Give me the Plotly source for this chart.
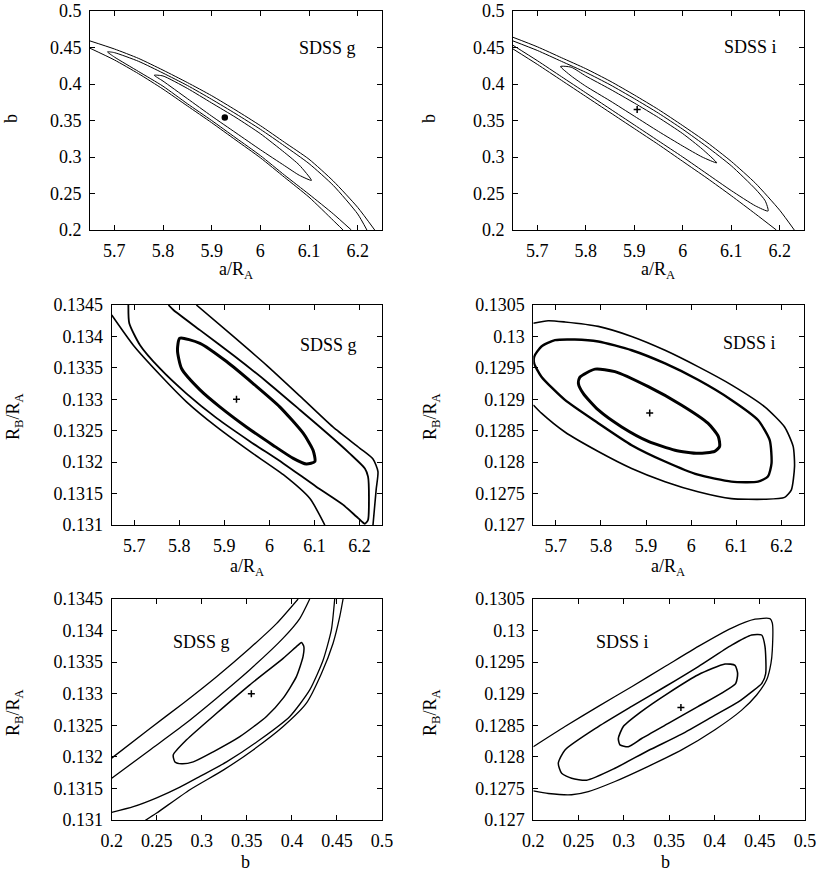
import plotly.graph_objects as go

# ---------- panel 1: a/R_A vs b, SDSS g ----------
p1_outer_up_x = [5.65, 5.70, 5.75, 5.80, 5.85, 5.90, 5.95, 6.00, 6.05, 6.10, 6.15, 6.20, 6.235]
p1_outer_up_y = [0.459, 0.448, 0.435, 0.419, 0.402, 0.384, 0.364, 0.343, 0.320, 0.297, 0.267, 0.231, 0.2]
p1_outer_lo_x = [5.65, 5.70, 5.75, 5.80, 5.85, 5.90, 5.95, 6.00, 6.05, 6.10, 6.15, 6.17]
p1_outer_lo_y = [0.449, 0.433, 0.414, 0.393, 0.370, 0.347, 0.323, 0.299, 0.272, 0.245, 0.213, 0.2]
p1_mid_x = [6.187, 6.15, 6.10, 6.05, 6.00, 5.95, 5.90, 5.85, 5.80, 5.75, 5.70, 5.686,
            5.70, 5.75, 5.80, 5.85, 5.90, 5.95, 6.00, 6.05, 6.10, 6.15, 6.20, 6.219]
p1_mid_y = [0.2, 0.222, 0.249, 0.275, 0.302, 0.326, 0.350, 0.373, 0.397, 0.417, 0.437, 0.444,
            0.443, 0.431, 0.415, 0.398, 0.379, 0.359, 0.338, 0.315, 0.291, 0.261, 0.222, 0.2]
p1_in_x = [5.782, 5.80, 5.85, 5.90, 5.95, 6.00, 6.05, 6.08, 6.105, 6.08, 6.05, 6.00, 5.95, 5.90, 5.85, 5.80, 5.782]
p1_in_y = [0.412, 0.411, 0.394, 0.374, 0.354, 0.332, 0.306, 0.289, 0.268, 0.275, 0.288, 0.310, 0.333, 0.356, 0.380, 0.404, 0.412]
p1_best = (5.927, 0.354)

# ---------- panel 2: a/R_A vs b, SDSS i ----------
p2_outer_up_x = [5.65, 5.70, 5.75, 5.80, 5.85, 5.90, 5.95, 6.00, 6.05, 6.10, 6.15, 6.20, 6.23]
p2_outer_up_y = [0.464, 0.451, 0.436, 0.421, 0.404, 0.385, 0.365, 0.343, 0.320, 0.294, 0.264, 0.227, 0.2]
p2_outer_lo_x = [5.65, 5.70, 5.75, 5.80, 5.85, 5.90, 5.95, 6.00, 6.05, 6.10, 6.15, 6.193]
p2_outer_lo_y = [0.448, 0.427, 0.405, 0.383, 0.361, 0.339, 0.317, 0.294, 0.271, 0.247, 0.222, 0.2]
p2_mid_x = [5.65, 5.70, 5.75, 5.80, 5.85, 5.90, 5.95, 6.00, 6.05, 6.10, 6.15, 6.176,
            6.17, 6.15, 6.10, 6.05, 6.00, 5.95, 5.90, 5.85, 5.80, 5.75, 5.70, 5.65]
p2_mid_y = [0.453, 0.432, 0.410, 0.388, 0.366, 0.344, 0.322, 0.300, 0.277, 0.254, 0.233, 0.226,
            0.240, 0.256, 0.288, 0.314, 0.338, 0.360, 0.380, 0.399, 0.416, 0.431, 0.446, 0.459]
p2_in_x = [5.748, 5.77, 5.80, 5.85, 5.90, 5.95, 6.00, 6.04, 6.07, 6.04, 6.00, 5.95, 5.90, 5.85, 5.80, 5.77, 5.748]
p2_in_y = [0.424, 0.423, 0.411, 0.393, 0.374, 0.354, 0.332, 0.311, 0.292, 0.300, 0.315, 0.335, 0.356, 0.377, 0.397, 0.411, 0.424]
p2_best = (5.906, 0.365)

# ---------- panel 3: a/R_A vs R_B/R_A, SDSS g ----------
p3_in_x = [5.801, 5.846, 5.905, 5.964, 6.023, 6.075, 6.097, 6.101, 6.082, 6.053, 6.008, 5.949, 5.890, 5.846, 5.805, 5.796, 5.801]
p3_in_y = [0.13397, 0.13389, 0.13360, 0.13325, 0.13288, 0.13246, 0.13219, 0.13201, 0.13197, 0.13206,
           0.13227, 0.13256, 0.13288, 0.13315, 0.13349, 0.13378, 0.13397]
p3_mid_x = [5.687, 5.689, 5.713, 5.757, 5.816, 5.883, 5.957, 6.031, 6.104, 6.164, 6.197, 6.212,
            6.219, 6.221, 6.219, 6.212, 6.178, 6.141, 6.068, 5.994, 5.920, 5.846, 5.787, 5.776]
p3_mid_y = [0.13450, 0.13421, 0.13386, 0.13349, 0.13309, 0.13270, 0.13233, 0.13198, 0.13161, 0.13132, 0.13111, 0.13102,
            0.13108, 0.13145, 0.13177, 0.13190, 0.13214, 0.13238, 0.13283, 0.13328, 0.13370, 0.13410, 0.13442, 0.13450]
p3_outer_lo_x = [5.650, 5.698, 5.757, 5.816, 5.883, 5.957, 6.031, 6.090, 6.123]
p3_outer_lo_y = [0.13434, 0.13386, 0.13339, 0.13296, 0.13256, 0.13217, 0.13180, 0.13142, 0.13100]
p3_outer_up_x = [5.838, 5.920, 5.994, 6.068, 6.141, 6.201, 6.230, 6.241, 6.237, 6.230]
p3_outer_up_y = [0.13450, 0.13400, 0.13354, 0.13305, 0.13256, 0.13222, 0.13205, 0.13185, 0.13156, 0.13100]
p3_best = (5.927, 0.1330)

# ---------- panel 4: a/R_A vs R_B/R_A, SDSS i ----------
p4_in_x = [5.753, 5.787, 5.831, 5.905, 5.978, 6.037, 6.060, 6.063, 6.052, 6.015, 5.964, 5.905, 5.846, 5.794, 5.761, 5.750, 5.753]
p4_in_y = [0.12935, 0.12948, 0.12944, 0.12920, 0.12891, 0.12862, 0.12841, 0.12825, 0.12817, 0.12814,
           0.12819, 0.12833, 0.12856, 0.12883, 0.12909, 0.12925, 0.12935]
p4_mid_x = [5.652, 5.668, 5.698, 5.742, 5.794, 5.868, 5.942, 6.015, 6.089, 6.148, 6.174, 6.178,
            6.170, 6.148, 6.089, 6.015, 5.942, 5.868, 5.794, 5.720, 5.668, 5.652, 5.652]
p4_mid_y = [0.12968, 0.12984, 0.12994, 0.12995, 0.12992, 0.12978, 0.12957, 0.12931, 0.12899, 0.12867, 0.12835, 0.12798,
            0.12777, 0.12769, 0.12769, 0.12780, 0.12801, 0.12827, 0.12862, 0.12899, 0.12936, 0.12957, 0.12968]
p4_outer_x = [5.650, 5.683, 5.720, 5.794, 5.868, 5.942, 6.015, 6.089, 6.163, 6.207, 6.226, 6.229,
              6.222, 6.207, 6.163, 6.089, 6.015, 5.942, 5.868, 5.794, 5.720, 5.668, 5.650]
p4_outer_y = [0.13021, 0.13025, 0.13023, 0.13016, 0.13000, 0.12978, 0.12952, 0.12923, 0.12888, 0.12856, 0.12825, 0.12793,
              0.12756, 0.12744, 0.12741, 0.12742, 0.12753, 0.12769, 0.12790, 0.12817, 0.12848, 0.12878, 0.12891]
p4_best = (5.908, 0.12878)

# ---------- panel 5: b vs R_B/R_A, SDSS g ----------
p5_outer_up_x = [0.2000, 0.2425, 0.2794, 0.3164, 0.3533, 0.3829, 0.4069]
p5_outer_up_y = [0.13198, 0.13245, 0.13285, 0.13327, 0.13372, 0.13411, 0.13450]
p5_mid_up_x = [0.2000, 0.2425, 0.2794, 0.3164, 0.3533, 0.3903, 0.4087, 0.4198]
p5_mid_up_y = [0.13166, 0.13211, 0.13250, 0.13293, 0.13338, 0.13388, 0.13419, 0.13450]
p5_mid_lo_x = [0.2000, 0.2240, 0.2499, 0.2757, 0.2979, 0.3275, 0.3644, 0.3977, 0.4198, 0.4346, 0.4438, 0.4475]
p5_mid_lo_y = [0.13112, 0.13121, 0.13135, 0.13152, 0.13169, 0.13192, 0.13227, 0.13264, 0.13306, 0.13353, 0.13401, 0.13450]
p5_outer_lo_x = [0.2369, 0.2499, 0.2868, 0.3238, 0.3570, 0.3903, 0.4161, 0.4328, 0.4457, 0.4531, 0.4568]
p5_outer_lo_y = [0.13099, 0.13111, 0.13148, 0.13179, 0.13211, 0.13248, 0.13285, 0.13332, 0.13380, 0.13422, 0.13450]
p5_in_x = [0.2683, 0.2831, 0.3164, 0.3533, 0.3903, 0.4069, 0.4106, 0.4132, 0.4124, 0.4050, 0.3903, 0.3718,
           0.3422, 0.3127, 0.2905, 0.2776, 0.2702, 0.2683]
p5_in_y = [0.13203, 0.13227, 0.13269, 0.13314, 0.13356, 0.13377, 0.13381, 0.13375, 0.13359, 0.13327, 0.13293, 0.13264,
           0.13232, 0.13208, 0.13192, 0.13189, 0.13192, 0.13203]
p5_best = (0.355, 0.1330)

# ---------- panel 6: b vs R_B/R_A, SDSS i ----------
p6_outer_x = [0.2000, 0.2350, 0.2718, 0.3086, 0.3454, 0.3822, 0.4190, 0.4448, 0.4613, 0.4639, 0.4639, 0.4624,
              0.4577, 0.4466, 0.4301, 0.4006, 0.3638, 0.3270, 0.2902, 0.2607, 0.2423, 0.2166, 0.2000]
p6_outer_y = [0.12816, 0.12848, 0.12880, 0.12911, 0.12943, 0.12975, 0.13004, 0.13018, 0.13019, 0.13012, 0.12969, 0.12948,
              0.12922, 0.12898, 0.12874, 0.12843, 0.12811, 0.12785, 0.12761, 0.12745, 0.12740, 0.12742, 0.12746]
p6_mid_x = [0.2276, 0.2350, 0.2718, 0.3086, 0.3454, 0.3822, 0.4190, 0.4411, 0.4521, 0.4558, 0.4566, 0.4521,
            0.4411, 0.4264, 0.4006, 0.3638, 0.3270, 0.2902, 0.2589, 0.2423, 0.2313, 0.2276]
p6_mid_y = [0.12790, 0.12811, 0.12848, 0.12880, 0.12911, 0.12943, 0.12977, 0.12993, 0.12993, 0.12975, 0.12932, 0.12916,
            0.12903, 0.12887, 0.12866, 0.12836, 0.12810, 0.12782, 0.12763, 0.12766, 0.12774, 0.12790]
p6_in_x = [0.2939, 0.2994, 0.3196, 0.3491, 0.3822, 0.4117, 0.4227, 0.4256, 0.4234, 0.4080, 0.3822, 0.3491,
           0.3196, 0.3049, 0.2957, 0.2939]
p6_in_y = [0.12829, 0.12848, 0.12872, 0.12901, 0.12930, 0.12947, 0.12945, 0.12932, 0.12916, 0.12901, 0.12880, 0.12853,
           0.12829, 0.12816, 0.12819, 0.12829]
p6_best = (0.363, 0.12878)

# ticks
a_ticks = [5.7, 5.8, 5.9, 6.0, 6.1, 6.2]
a_labels = ["5.7", "5.8", "5.9", "6", "6.1", "6.2"]
b_ticks = [0.2, 0.25, 0.3, 0.35, 0.4, 0.45, 0.5]
b_labels = ["0.2", "0.25", "0.3", "0.35", "0.4", "0.45", "0.5"]
rg_ticks = [0.131, 0.1315, 0.132, 0.1325, 0.133, 0.1335, 0.134, 0.1345]
rg_labels = ["0.131", "0.1315", "0.132", "0.1325", "0.133", "0.1335", "0.134", "0.1345"]
ri_ticks = [0.127, 0.1275, 0.128, 0.1285, 0.129, 0.1295, 0.13, 0.1305]
ri_labels = ["0.127", "0.1275", "0.128", "0.1285", "0.129", "0.1295", "0.13", "0.1305"]

FONT = "Liberation Serif"
FS = 18

fig = go.Figure()


def add_line(n, xs, ys, width=1.0):
    fig.add_trace(go.Scatter(
        x=xs, y=ys, mode="lines", xaxis="x%d" % n, yaxis="y%d" % n,
        line=dict(color="black", width=width, shape="spline", smoothing=0.6),
        showlegend=False, hoverinfo="skip",
    ))


def add_best(n, pt, symbol="cross-thin"):
    fig.add_trace(go.Scatter(
        x=[pt[0]], y=[pt[1]], mode="markers", xaxis="x%d" % n, yaxis="y%d" % n,
        marker=dict(symbol=symbol, size=5, color="black", line=dict(color="black", width=1.5)),
        showlegend=False, hoverinfo="skip",
    ))


add_line(1, p1_outer_up_x, p1_outer_up_y)
add_line(1, p1_outer_lo_x, p1_outer_lo_y)
add_line(1, p1_mid_x, p1_mid_y)
add_line(1, p1_in_x, p1_in_y)
add_best(1, p1_best, "circle")

add_line(2, p2_outer_up_x, p2_outer_up_y)
add_line(2, p2_outer_lo_x, p2_outer_lo_y)
add_line(2, p2_mid_x, p2_mid_y)
add_line(2, p2_in_x, p2_in_y)
add_best(2, p2_best)

add_line(3, p3_in_x, p3_in_y, 3)
add_line(3, p3_mid_x, p3_mid_y, 1.8)
add_line(3, p3_outer_lo_x, p3_outer_lo_y, 1.6)
add_line(3, p3_outer_up_x, p3_outer_up_y, 1.6)
add_best(3, p3_best)

add_line(4, p4_in_x, p4_in_y, 3)
add_line(4, p4_mid_x, p4_mid_y, 2.4)
add_line(4, p4_outer_x, p4_outer_y, 1.6)
add_best(4, p4_best)

add_line(5, p5_outer_up_x, p5_outer_up_y, 1.3)
add_line(5, p5_mid_up_x, p5_mid_up_y, 1.3)
add_line(5, p5_mid_lo_x, p5_mid_lo_y, 1.3)
add_line(5, p5_outer_lo_x, p5_outer_lo_y, 1.3)
add_line(5, p5_in_x, p5_in_y, 1.5)
add_best(5, p5_best)

add_line(6, p6_outer_x, p6_outer_y, 1.3)
add_line(6, p6_mid_x, p6_mid_y, 1.5)
add_line(6, p6_in_x, p6_in_y, 1.6)
add_best(6, p6_best)

W, H = 830, 873
boxes = {
    1: (90, 382, 11, 230),
    2: (513, 804, 11, 230),
    3: (111.7, 382, 305, 525),
    4: (533.3, 804, 305, 525),
    5: (111.7, 382, 599, 820),
    6: (533.3, 805, 599, 820),
}
xspec = {1: ([5.65, 6.25], a_ticks, a_labels), 2: ([5.65, 6.25], a_ticks, a_labels),
         3: ([5.65, 6.25], a_ticks, a_labels), 4: ([5.65, 6.25], a_ticks, a_labels),
         5: ([0.2, 0.5], b_ticks, b_labels), 6: ([0.2, 0.5], b_ticks, b_labels)}
yspec = {1: ([0.2, 0.5], b_ticks, b_labels), 2: ([0.2, 0.5], b_ticks, b_labels),
         3: ([0.131, 0.1345], rg_ticks, rg_labels), 4: ([0.127, 0.1305], ri_ticks, ri_labels),
         5: ([0.131, 0.1345], rg_ticks, rg_labels), 6: ([0.127, 0.1305], ri_ticks, ri_labels)}

axis_style = dict(
    showline=True, linecolor="black", linewidth=1, mirror="ticks",
    ticks="inside", ticklen=5, tickcolor="black", tickwidth=1,
    showgrid=False, zeroline=False, ticklabeloverflow="allow",
    tickfont=dict(family=FONT, size=FS, color="black"),
)

layout = dict(
    width=W, height=H, margin=dict(l=0, r=0, t=0, b=0, autoexpand=False),
    paper_bgcolor="white", plot_bgcolor="white",
    font=dict(family=FONT, size=FS, color="black"),
)
for n, (x0, x1, y0, y1) in boxes.items():
    key = "" if n == 1 else str(n)
    xr, xt, xl = xspec[n]
    yr, yt, yl = yspec[n]
    layout["xaxis" + key] = dict(axis_style, domain=[x0 / W, x1 / W], range=xr,
                                 tickvals=xt, ticktext=xl, anchor="y" + key,
                                 ticklabelstandoff=4)
    layout["yaxis" + key] = dict(axis_style, domain=[1 - y1 / H, 1 - y0 / H], range=yr,
                                 tickvals=yt, ticktext=yl, anchor="x" + key,
                                 ticklabelstandoff=4)

annotations = []
# panel labels
for txt, px, py in [("SDSS g", 327, 48), ("SDSS i", 750, 47), ("SDSS g", 328, 345),
                    ("SDSS i", 749, 343), ("SDSS g", 201, 642), ("SDSS i", 622, 642)]:
    annotations.append(dict(text=txt, x=px / W, y=1 - py / H, xref="paper", yref="paper",
                            xanchor="center", yanchor="middle", showarrow=False,
                            font=dict(family=FONT, size=FS, color="black")))
# axis titles
for txt, px, py, ang in [
    ("a/R<sub>A</sub>", 236, 270, 0), ("b", 11, 119, -90),
    ("a/R<sub>A</sub>", 658, 270, 0), ("b", 429, 118, -90),
    ("a/R<sub>A</sub>", 247, 567, 0), ("R<sub>B</sub>/R<sub>A</sub>", 14, 417, -90),
    ("a/R<sub>A</sub>", 668, 567, 0), ("R<sub>B</sub>/R<sub>A</sub>", 431, 417, -90),
    ("b", 245, 862, 0), ("R<sub>B</sub>/R<sub>A</sub>", 14, 713, -90),
    ("b", 665, 862, 0), ("R<sub>B</sub>/R<sub>A</sub>", 431, 713, -90),
]:
    annotations.append(dict(text=txt, x=px / W, y=1 - py / H, xref="paper", yref="paper",
                            xanchor="center", yanchor="middle", showarrow=False, textangle=ang,
                            font=dict(family=FONT, size=FS, color="black")))
layout["annotations"] = annotations

fig.update_layout(**layout)
fig.write_html("out.html", config={"displayModeBar": False},
               post_script="document.body.style.margin = '0px';")
